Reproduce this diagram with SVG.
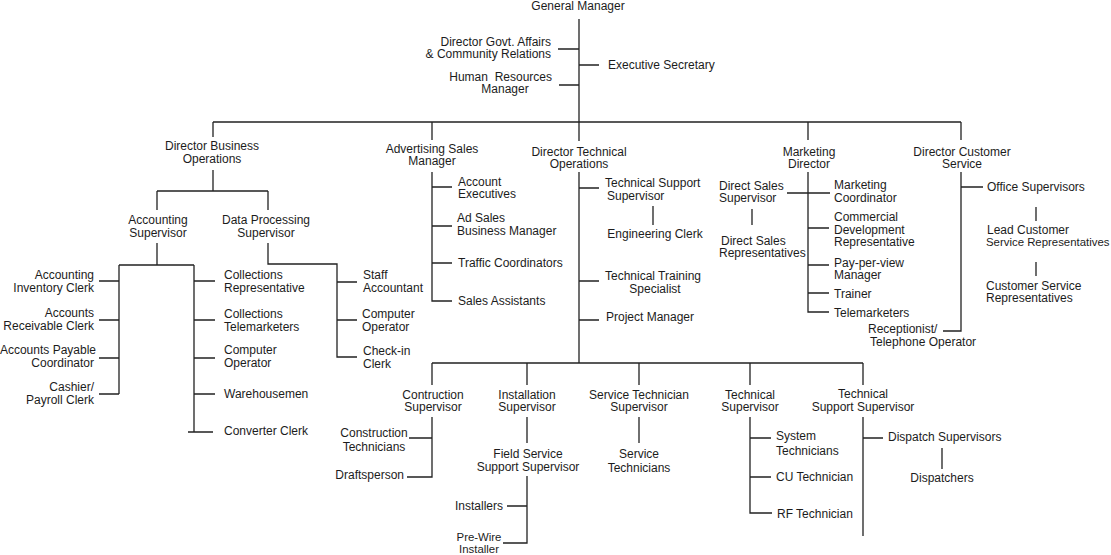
<svg xmlns="http://www.w3.org/2000/svg" width="1111" height="555" viewBox="0 0 1111 555">
<style>
text{font-family:"Liberation Sans",Arial,sans-serif;font-size:12px;fill:#1c1c1c;white-space:pre}
.m{text-anchor:middle}
.e{text-anchor:end}
.s{font-size:11.4px}
#connectors path{fill:none;stroke:#222;stroke-width:1.3}
</style>
<rect width="1111" height="555" fill="#fff"/>
<g id="connectors">
<path d="M579,19V141M558,49H579M579,65H599M559,85H579"/>
<path d="M213,122H961M213,122V137M432,122V140M808,122V140M961,122V140"/>
<path d="M213,170V191M157,191H268M157,191V210M268,191V210"/>
<path d="M157,243V265M119,265H194M119,265V394M194,265V432"/>
<path d="M99,281H119M99,320H119M99,358H119M99,394H119"/>
<path d="M194,281H215M194,320H215M194,358H215M194,394H215M188,432H213"/>
<path d="M268,243V264H337V357H357M337,282H357M337,320H357"/>
<path d="M432,172V301H452M432,187H452M432,226H452M432,263H452"/>
<path d="M579,172V363M579,188H599M579,281H599M579,320H599M653,206V225"/>
<path d="M432,363H863M432,363V385M527,363V385M639,363V385M750,363V385M863,363V385"/>
<path d="M432,417V477H407M409,438H432"/>
<path d="M527,417V443M527,476V543H503M507,506H527"/>
<path d="M639,417V443"/>
<path d="M750,417V513H772M750,438H771M750,477H771"/>
<path d="M863,417V536M863,438H883M942,448V469"/>
<path d="M808,172V312H829M787,193H830M808,228H829M808,265H829M808,293H829M752,209V225"/>
<path d="M961,172V331H943M961,187H983M1036,207V221M1036,262V276"/>
</g>
<g id="general-manager"><text class="m" x="578" y="10">General Manager</text></g>
<g id="director-govt-affairs"><text class="e" x="551" y="46">Director Govt. Affairs</text><text class="e" x="551" y="58">&amp; Community Relations</text></g>
<g id="executive-secretary"><text x="608" y="69">Executive Secretary</text></g>
<g id="hr-manager"><text class="e" x="552" y="81">Human  Resources</text><text class="m" x="505" y="93">Manager</text></g>
<g id="director-business-operations"><text class="m" x="212" y="150">Director Business</text><text class="m" x="212" y="163">Operations</text></g>
<g id="accounting-supervisor"><text class="m" x="158" y="224">Accounting</text><text class="m" x="158" y="237">Supervisor</text></g>
<g id="data-processing-supervisor"><text class="m" x="266" y="224">Data Processing</text><text class="m" x="266" y="237">Supervisor</text></g>
<g id="accounting-inventory-clerk"><text class="e" x="94" y="279">Accounting</text><text class="e" x="94" y="292">Inventory Clerk</text></g>
<g id="accounts-receivable-clerk"><text class="e" x="94" y="317">Accounts</text><text class="e" x="94" y="330">Receivable Clerk</text></g>
<g id="accounts-payable-coordinator"><text class="e" x="96" y="354">Accounts Payable</text><text class="e" x="94" y="367">Coordinator</text></g>
<g id="cashier-payroll-clerk"><text class="e" x="94" y="391">Cashier/</text><text class="e" x="94" y="404">Payroll Clerk</text></g>
<g id="collections-representative"><text x="224" y="279">Collections</text><text x="224" y="292">Representative</text></g>
<g id="collections-telemarketers"><text x="224" y="318">Collections</text><text x="224" y="331">Telemarketers</text></g>
<g id="computer-operator-1"><text x="224" y="354">Computer</text><text x="224" y="367">Operator</text></g>
<g id="warehousemen"><text x="224" y="398">Warehousemen</text></g>
<g id="converter-clerk"><text x="224" y="435">Converter Clerk</text></g>
<g id="staff-accountant"><text x="363" y="279">Staff</text><text x="363" y="292">Accountant</text></g>
<g id="computer-operator-2"><text x="362" y="318">Computer</text><text x="362" y="331">Operator</text></g>
<g id="check-in-clerk"><text x="363" y="355">Check-in</text><text x="363" y="368">Clerk</text></g>
<g id="advertising-sales-manager"><text class="m" x="432" y="153">Advertising Sales</text><text class="m" x="432" y="165">Manager</text></g>
<g id="account-executives"><text x="458" y="186">Account</text><text x="458" y="198">Executives</text></g>
<g id="ad-sales-business-manager"><text x="457" y="222">Ad Sales</text><text x="457" y="235">Business Manager</text></g>
<g id="traffic-coordinators"><text x="458" y="267">Traffic Coordinators</text></g>
<g id="sales-assistants"><text x="458" y="305">Sales Assistants</text></g>
<g id="director-technical-operations"><text class="m" x="579" y="156">Director Technical</text><text class="m" x="579" y="168">Operations</text></g>
<g id="technical-support-supervisor-1"><text x="605" y="187">Technical Support</text><text x="607" y="200">Supervisor</text></g>
<g id="engineering-clerk"><text class="m" x="655" y="238">Engineering Clerk</text></g>
<g id="technical-training-specialist"><text class="m" x="653" y="280">Technical Training</text><text class="m" x="655" y="293">Specialist</text></g>
<g id="project-manager"><text x="606" y="321">Project Manager</text></g>
<g id="marketing-director"><text class="m" x="809" y="156">Marketing</text><text class="m" x="809" y="168">Director</text></g>
<g id="direct-sales-supervisor"><text x="719" y="190">Direct Sales</text><text x="719" y="202">Supervisor</text></g>
<g id="direct-sales-representatives"><text x="721" y="245">Direct Sales</text><text x="719" y="257">Representatives</text></g>
<g id="marketing-coordinator"><text x="834" y="189">Marketing</text><text x="834" y="202">Coordinator</text></g>
<g id="commercial-development-representative"><text x="834" y="221">Commercial</text><text x="834" y="233.5">Development</text><text x="834" y="246">Representative</text></g>
<g id="pay-per-view-manager"><text x="834" y="266.5">Pay-per-view</text><text x="834" y="279">Manager</text></g>
<g id="trainer"><text x="834" y="298">Trainer</text></g>
<g id="telemarketers"><text x="834" y="316.5">Telemarketers</text></g>
<g id="director-customer-service"><text class="m" x="962" y="156">Director Customer</text><text class="m" x="962" y="168">Service</text></g>
<g id="office-supervisors"><text x="987" y="191">Office Supervisors</text></g>
<g id="lead-customer-service-representatives"><text x="987" y="233.5">Lead Customer</text><text class="s" x="986" y="246">Service Representatives</text></g>
<g id="customer-service-representatives"><text x="986" y="289.5">Customer Service</text><text x="986" y="301.5">Representatives</text></g>
<g id="receptionist"><text x="868" y="333">Receptionist/</text><text x="870" y="345.5">Telephone Operator</text></g>
<g id="contruction-supervisor"><text class="m" x="433" y="399">Contruction</text><text class="m" x="433" y="411">Supervisor</text></g>
<g id="construction-technicians"><text class="m" x="374" y="437">Construction</text><text class="m" x="374" y="451">Technicians</text></g>
<g id="draftsperson"><text class="e" x="404" y="479">Draftsperson</text></g>
<g id="installation-supervisor"><text class="m" x="527" y="399">Installation</text><text class="m" x="527" y="411">Supervisor</text></g>
<g id="field-service-support-supervisor"><text class="m" x="528" y="458">Field Service</text><text class="m" x="528" y="471">Support Supervisor</text></g>
<g id="installers"><text class="e" x="503" y="510">Installers</text></g>
<g id="pre-wire-installer"><text class="m s" x="479" y="541">Pre-Wire</text><text class="m s" x="479" y="552.5">Installer</text></g>
<g id="service-technician-supervisor"><text class="m" x="639" y="399">Service Technician</text><text class="m" x="639" y="411">Supervisor</text></g>
<g id="service-technicians"><text class="m" x="639" y="458">Service</text><text class="m" x="639" y="472">Technicians</text></g>
<g id="technical-supervisor"><text class="m" x="750" y="399">Technical</text><text class="m" x="750" y="411">Supervisor</text></g>
<g id="system-technicians"><text x="776" y="440">System</text><text x="776" y="455">Technicians</text></g>
<g id="cu-technician"><text x="776" y="481">CU Technician</text></g>
<g id="rf-technician"><text x="777" y="517.5">RF Technician</text></g>
<g id="technical-support-supervisor-2"><text class="m" x="863" y="398">Technical</text><text class="m" x="863" y="410.5">Support Supervisor</text></g>
<g id="dispatch-supervisors"><text x="888" y="441">Dispatch Supervisors</text></g>
<g id="dispatchers"><text class="m" x="942" y="482">Dispatchers</text></g>
</svg>
